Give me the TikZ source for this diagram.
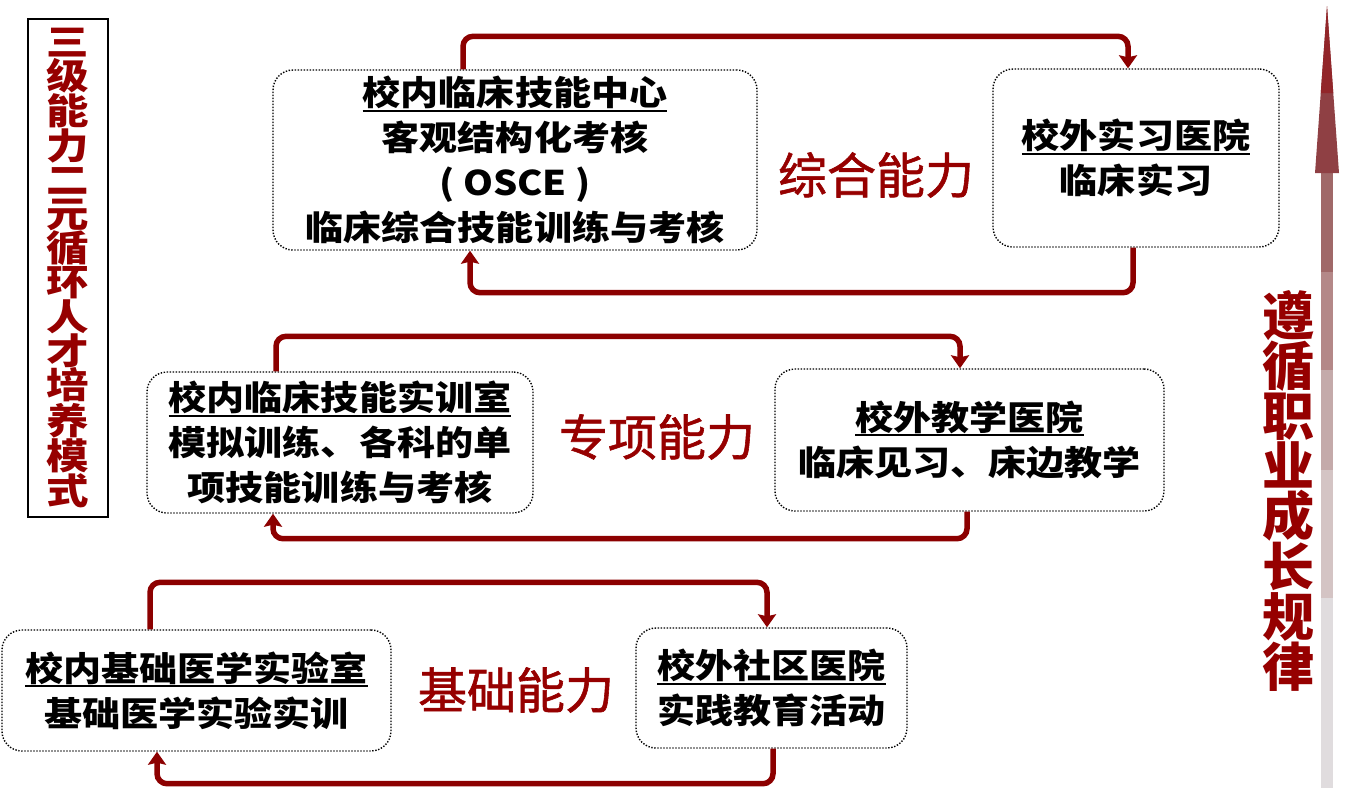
\documentclass[tikz,border=0pt]{standalone}
\usepackage{fontspec}
\usetikzlibrary{arrows.meta}
\newfontfamily\cjkb{Noto Sans CJK SC}[FakeStretch=1.12]
\newfontfamily\cjkv{Noto Sans CJK SC}[FakeStretch=1.18]
\newfontfamily\cjkr{Noto Sans CJK SC}
\newfontfamily\cjkm{Noto Sans CJK SC}[FakeBold=1.2]
\definecolor{dkred}{RGB}{140,0,0}
\definecolor{lbred}{RGB}{150,0,0}
\definecolor{hdA}{RGB}{146,38,42}
\definecolor{hdB}{RGB}{143,64,68}
\definecolor{bdA}{RGB}{160,104,104}
\definecolor{bdB}{RGB}{180,136,136}
\definecolor{bdC}{RGB}{196,170,170}
\definecolor{bdD}{RGB}{212,196,196}
\definecolor{bdE}{RGB}{224,220,222}
\newsavebox\ulbox
\newcommand\hdr[1]{\sbox\ulbox{#1}\rlap{\rule[-6pt]{\wd\ulbox}{2pt}}\usebox\ulbox}
\begin{document}
\begin{tikzpicture}[x=1pt,y=-1pt,
  box/.style={draw=black, line width=1.4pt, dash pattern=on 1.4pt off 1.6pt,
    rounded corners=20pt, inner sep=0pt, align=center,
    font=\cjkb\bfseries\fontsize{34}{45}\selectfont},
  conn/.style={draw=dkred, line width=5.5pt, rounded corners=10pt,
    -{Stealth[length=13pt,width=18pt,inset=2pt]}},
  lab/.style={text=lbred, inner sep=0pt, font=\cjkm\fontsize{49}{49}\selectfont}]
\useasboundingbox (0,0) rectangle (1346,788);

% growth arrow
\fill[bdA] (1321,172) rectangle (1333,272);
\fill[bdB] (1321,272) rectangle (1333,370);
\fill[bdC] (1321,370) rectangle (1333,470);
\fill[bdD] (1321,470) rectangle (1333,598);
\fill[bdE] (1321,598) rectangle (1333,788);
\fill[hdB] (1327,6) -- (1339,173) -- (1315,173) -- cycle;
\fill[hdA] (1327,6) -- (1333.25,93) -- (1320.75,93) -- cycle;

% side title
\node[draw=black, line width=2pt, minimum width=80pt, minimum height=498pt,
  inner sep=0pt, align=center, text=lbred,
  font=\cjkv\bfseries\fontsize{36}{34.2}\selectfont] (side) at (68,268)
  {三\\级\\能\\力\\二\\元\\循\\环\\人\\才\\培\\养\\模\\式};

\node[align=center, text=lbred, inner sep=0pt,
  font=\cjkr\bfseries\fontsize{52}{50}\selectfont] (law) at (1288,491)
  {遵\\循\\职\\业\\成\\长\\规\\律};

% boxes
\node[box, minimum width=484pt, minimum height=180pt] (tl) at (515,160)
  {\hdr{校内临床技能中心}\\客观结构化考核\\( OSCE )\\临床综合技能训练与考核};
\node[box, minimum width=286pt, minimum height=178pt] (tr) at (1136,158)
  {\hdr{校外实习医院}\\临床实习};
\node[box, minimum width=386pt, minimum height=141pt] (ml) at (340,442.5)
  {\hdr{校内临床技能实训室}\\模拟训练、各科的单\\项技能训练与考核};
\node[box, minimum width=389pt, minimum height=142pt] (mr) at (969.5,440)
  {\hdr{校外教学医院}\\临床见习、床边教学};
\node[box, minimum width=389pt, minimum height=121pt] (bl) at (196.5,690.5)
  {\hdr{校内基础医学实验室}\\基础医学实验实训};
\node[box, minimum width=271pt, minimum height=120pt] (br) at (771.5,688)
  {\hdr{校外社区医院}\\实践教育活动};

% labels
\node[lab] (l1) at (876,175) {综合能力};
\node[lab] (l2) at (657,437) {专项能力};
\node[lab] (l3) at (516,690) {基础能力};

% connectors
\draw[conn] ([xshift=-52pt]tl.north) -- ++(0,-33) -| ([xshift=-8pt]tr.north);
\draw[conn] ([xshift=-3pt]tr.south) -- ++(0,45) -| ([xshift=-45pt]tl.south);
\draw[conn] ([xshift=-64pt]ml.north) -- ++(0,-35) -| ([xshift=-9.5pt]mr.north);
\draw[conn] ([xshift=-2.5pt]mr.south) -- ++(0,27) -| ([xshift=-67pt]ml.south);
\draw[conn] ([xshift=-46.5pt]bl.north) -- ++(0,-47) -| ([xshift=-4.5pt]br.north);
\draw[conn] ([xshift=1.5pt]br.south) -- ++(0,35) -| ([xshift=-39.5pt]bl.south);
\end{tikzpicture}
\end{document}
